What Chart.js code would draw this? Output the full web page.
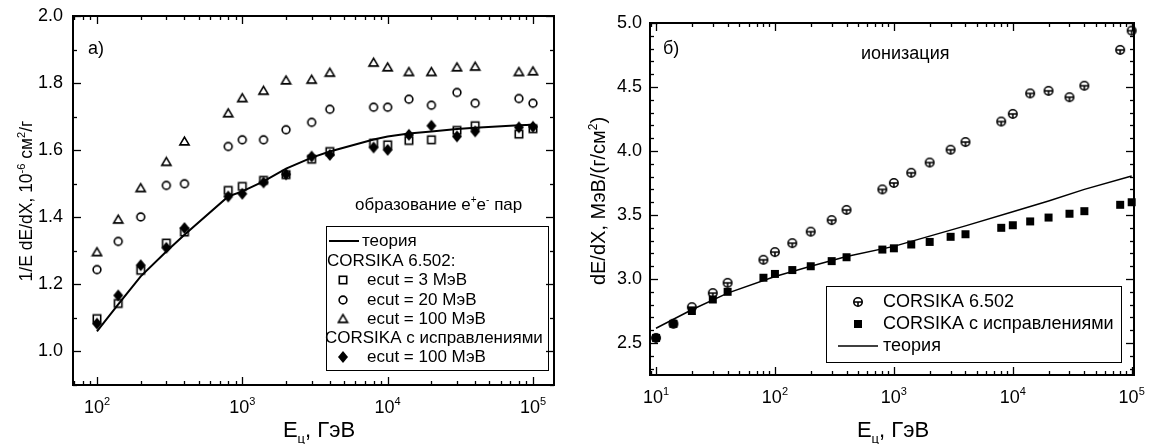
<!DOCTYPE html>
<html>
<head>
<meta charset="utf-8">
<script src="https://cdn.jsdelivr.net/npm/chart.js@4.4.1/dist/chart.umd.min.js"></script>
<style>
  html, body { margin: 0; padding: 0; background: #fff; }
  #wrap { position: relative; width: 1149px; height: 444px; }
  canvas { position: absolute; top: 0; }
</style>
</head>
<body>
<div id="wrap">
  <canvas id="pairChart" width="576" height="444" style="left:0"></canvas>
  <canvas id="ionChart" width="573" height="444" style="left:576px"></canvas>
</div>
<script>
const FONT = '"Liberation Sans", Arial, sans-serif';

// а) pair production, 1/E dE/dX in 10^-6 cm2/g
const pairEnergy = [100, 140, 200, 300, 400, 800, 1000, 1400, 2000, 3000, 4000, 8000, 10000, 14000, 20000, 30000, 40000, 80000, 100000];
const pairTheory = [1.060, 1.140, 1.224, 1.298, 1.348, 1.462, 1.477, 1.507, 1.545, 1.578, 1.596, 1.632, 1.641, 1.650, 1.656, 1.663, 1.667, 1.674, 1.676];
const pairEcut3 = [1.098, 1.143, 1.242, 1.323, 1.356, 1.480, 1.492, 1.510, 1.527, 1.573, 1.596, 1.621, 1.616, 1.629, 1.631, 1.659, 1.673, 1.648, 1.664];
const pairEcut20 = [1.244, 1.328, 1.401, 1.495, 1.500, 1.611, 1.631, 1.631, 1.661, 1.683, 1.722, 1.728, 1.728, 1.752, 1.734, 1.772, 1.740, 1.754, 1.740];
const pairEcut100 = [1.296, 1.393, 1.487, 1.565, 1.626, 1.710, 1.755, 1.777, 1.808, 1.810, 1.831, 1.861, 1.847, 1.833, 1.833, 1.847, 1.849, 1.833, 1.835];
const pairFixed = [1.083, 1.167, 1.257, 1.309, 1.368, 1.462, 1.470, 1.504, 1.528, 1.581, 1.586, 1.608, 1.601, 1.646, 1.673, 1.641, 1.656, 1.668, 1.670];
const pairYTicks = [1.0, 1.2, 1.4, 1.6, 1.8, 2.0];
const pairXTicks = [100, 1000, 10000, 100000];

// б) ionization, dE/dX in MeV/(g/cm2)
const ionEnergy = [10, 14, 20, 30, 40, 80, 100, 140, 200, 300, 400, 800, 1000, 1400, 2000, 3000, 4000, 8000, 10000, 14000, 20000, 30000, 40000, 80000, 100000];
const ionCorsika = [2.54, 2.65, 2.78, 2.89, 2.97, 3.15, 3.21, 3.28, 3.37, 3.46, 3.54, 3.70, 3.75, 3.83, 3.91, 4.01, 4.07, 4.23, 4.29, 4.45, 4.47, 4.42, 4.51, 4.79, 4.94];
const ionFixed = [2.54, 2.65, 2.75, 2.84, 2.90, 3.01, 3.04, 3.07, 3.10, 3.14, 3.17, 3.23, 3.24, 3.27, 3.29, 3.33, 3.35, 3.40, 3.42, 3.45, 3.48, 3.51, 3.53, 3.58, 3.60];
const ionTheoryEnergy = [10, 20, 40, 100, 200, 400, 1000, 2000, 4000, 10000, 20000, 40000, 100000];
const ionTheory = [2.615, 2.76, 2.89, 3.02, 3.10, 3.175, 3.255, 3.335, 3.415, 3.525, 3.61, 3.70, 3.805];
const ionYTicks = [2.5, 3.0, 3.5, 4.0, 4.5, 5.0];
const ionXTicks = [10, 100, 1000, 10000, 100000];

const pts = (xs, ys) => xs.map((x, i) => ({ x: x, y: ys[i] }));

// small canvases used as point styles
function marker(size, draw) {
  const c = document.createElement('canvas');
  c.width = c.height = size;
  const g = c.getContext('2d');
  g.translate(size / 2, size / 2);
  g.strokeStyle = '#000';
  g.fillStyle = '#000';
  g.lineWidth = 1.6;
  draw(g);
  return c;
}
const openSquare = marker(12, g => g.strokeRect(-3.7, -3.7, 7.4, 7.4));
const openCircle = marker(12, g => { g.beginPath(); g.arc(0, 0, 3.9, 0, Math.PI * 2); g.stroke(); });
const openTriangle = marker(13, g => {
  g.beginPath(); g.moveTo(0, -4.4); g.lineTo(4.6, 3.4); g.lineTo(-4.6, 3.4); g.closePath(); g.stroke();
});
const fullDiamond = marker(14, g => {
  g.beginPath(); g.moveTo(0, -6); g.lineTo(5, 0); g.lineTo(0, 6); g.lineTo(-5, 0); g.closePath(); g.fill();
});
const barCircle = marker(12, g => {
  g.beginPath(); g.arc(0, 0, 4.2, 0, Math.PI * 2); g.stroke();
  g.beginPath(); g.moveTo(-4.2, 0); g.lineTo(4.2, 0); g.moveTo(0, 0); g.lineTo(0, 4.2); g.stroke();
});
const fullSquare = marker(12, g => g.fillRect(-4, -4, 8, 8));

// text with super/subscripts: parts = [[text, 0 | 1 (sup) | -1 (sub)], ...]
function drawRich(ctx, parts, x, y, size, align) {
  const small = Math.round(size * 0.6);
  const widths = parts.map(([t, m]) => {
    ctx.font = (m ? small : size) + 'px ' + FONT;
    return ctx.measureText(t).width;
  });
  const total = widths.reduce((s, w) => s + w, 0);
  let cx = align === 'center' ? x - total / 2 : x;
  ctx.textAlign = 'left';
  ctx.textBaseline = 'alphabetic';
  parts.forEach(([t, m], i) => {
    ctx.font = (m ? small : size) + 'px ' + FONT;
    const dy = m === 1 ? -size * 0.42 : m === -1 ? size * 0.25 : 0;
    ctx.fillText(t, cx, y + dy);
    cx += widths[i];
  });
}

const panelDecor = {
  id: 'panelDecor',
  afterDraw(chart, args, o) {
    const { ctx, chartArea: a, scales } = chart;
    const x = scales.x, y = scales.y;
    ctx.save();
    ctx.fillStyle = '#000';
    ctx.strokeStyle = '#000';

    const seg = (x1, y1, x2, y2) => { ctx.beginPath(); ctx.moveTo(x1, y1); ctx.lineTo(x2, y2); ctx.stroke(); };

    // inward ticks on all four sides
    ctx.lineWidth = 1.3;
    const e0 = Math.floor(Math.log10(x.min)), e1 = Math.ceil(Math.log10(x.max));
    for (let e = e0; e <= e1; e++) {
      for (let m = 1; m < 10; m++) {
        const v = m * Math.pow(10, e);
        if (v < x.min || v > x.max) continue;
        const p = Math.round(x.getPixelForValue(v)) + 0.5;
        const len = m === 1 ? 8 : 4;
        seg(p, a.bottom, p, a.bottom - len);
        seg(p, a.top, p, a.top + len);
      }
    }
    const step = o.yMinor;
    const first = Math.ceil(y.min / step - 1e-6);
    const last = Math.floor(y.max / step + 1e-6);
    for (let i = first; i <= last; i++) {
      const v = i * step;
      const major = o.yTicks.some(t => Math.abs(t - v) < 1e-6);
      const p = Math.round(y.getPixelForValue(v)) + 0.5;
      const len = major ? 8 : 4;
      seg(a.left, p, a.left + len, p);
      seg(a.right, p, a.right - len, p);
    }

    // frame
    ctx.lineWidth = 2;
    ctx.strokeRect(a.left, a.top, a.right - a.left, a.bottom - a.top);

    // tick labels
    ctx.font = '18px ' + FONT;
    ctx.textAlign = 'right';
    ctx.textBaseline = 'middle';
    o.yTicks.forEach(t => ctx.fillText(t.toFixed(1), a.left - o.yLabelGap, y.getPixelForValue(t)));
    o.xTicks.forEach(t => {
      const exp = Math.round(Math.log10(t));
      drawRich(ctx, [['10', 0], [String(exp), 1]], x.getPixelForValue(t), a.bottom + 28, 18, 'center');
    });

    // titles and annotations
    o.texts.forEach(t => {
      ctx.save();
      ctx.translate(t.x, t.y);
      if (t.rotate) ctx.rotate(-Math.PI / 2);
      drawRich(ctx, t.parts, 0, 0, t.size, t.align);
      ctx.restore();
    });

    // legend
    const L = o.legend;
    ctx.lineWidth = 1;
    ctx.strokeRect(L.box[0] + 0.5, L.box[1] + 0.5, L.box[2], L.box[3]);
    ctx.font = L.size + 'px ' + FONT;
    ctx.textAlign = 'left';
    ctx.textBaseline = 'middle';
    L.rows.forEach(r => {
      if (r.ds >= 0) {
        const ds = chart.data.datasets[r.ds];
        if (r.kind === 'line') {
          ctx.lineWidth = ds.borderWidth;
          seg(L.line[0], r.y, L.line[1], r.y);
        } else {
          const img = ds.pointStyle;
          ctx.drawImage(img, L.markerX - img.width / 2, r.y - img.height / 2);
        }
      }
      ctx.fillText(r.text, r.tx, r.y);
    });
    ctx.restore();
  }
};

function baseScales(xr, yr, xHeight, yWidth) {
  const hidden = { display: false, drawTicks: false };
  return {
    x: {
      type: 'logarithmic', min: xr[0], max: xr[1],
      grid: hidden, border: { display: false }, ticks: { display: false },
      afterFit: s => { s.height = xHeight; }
    },
    y: {
      type: 'linear', min: yr[0], max: yr[1],
      grid: hidden, border: { display: false }, ticks: { display: false },
      afterFit: s => { s.width = yWidth; }
    }
  };
}

const common = {
  responsive: false,
  animation: false,
  events: [],
};

new Chart(document.getElementById('pairChart'), {
  type: 'scatter',
  data: {
    datasets: [
      { label: 'CORSIKA с исправлениями, ecut = 100 МэВ', data: pts(pairEnergy, pairFixed), pointStyle: fullDiamond, pointRadius: 5, order: 0, clip: false },
      { label: 'ecut = 3 МэВ', data: pts(pairEnergy, pairEcut3), pointStyle: openSquare, pointRadius: 5, order: 1, clip: false },
      { label: 'ecut = 20 МэВ', data: pts(pairEnergy, pairEcut20), pointStyle: openCircle, pointRadius: 5, order: 2, clip: false },
      { label: 'ecut = 100 МэВ', data: pts(pairEnergy, pairEcut100), pointStyle: openTriangle, pointRadius: 5, order: 3, clip: false },
      { label: 'теория', data: pts(pairEnergy, pairTheory), showLine: true, pointRadius: 0, borderColor: '#000', borderWidth: 2, order: 4 }
    ]
  },
  options: {
    ...common,
    layout: { padding: { left: 0, top: 16, right: 22, bottom: 0 } },
    scales: baseScales([68.4, 139500], [0.9, 2.0], 59, 73),
    plugins: {
      legend: { display: false },
      tooltip: { enabled: false },
      panelDecor: {
        yTicks: pairYTicks, xTicks: pairXTicks, yMinor: 0.1, yLabelGap: 10,
        texts: [
          { parts: [['а)', 0]], x: 88, y: 54, size: 18, align: 'left' },
          { parts: [['образование e', 0], ['+', 1], ['e', 0], ['-', 1], [' пар', 0]], x: 355, y: 210, size: 17, align: 'left' },
          { parts: [['E', 0], ['ц', -1], [', ГэВ', 0]], x: 319, y: 437, size: 22, align: 'center' },
          { parts: [['1/E dE/dX, 10', 0], ['-6', 1], [' см', 0], ['2', 1], ['/г', 0]], x: 32, y: 201, size: 17.5, align: 'center', rotate: true }
        ],
        legend: {
          box: [326, 226, 222, 144], size: 17, markerX: 343, line: [329, 359],
          rows: [
            { ds: 4, kind: 'line', text: 'теория', tx: 362, y: 241 },
            { ds: -1, text: 'CORSIKA 6.502:', tx: 327, y: 261 },
            { ds: 1, text: 'ecut = 3 МэВ', tx: 367, y: 280 },
            { ds: 2, text: 'ecut = 20 МэВ', tx: 367, y: 300 },
            { ds: 3, text: 'ecut = 100 МэВ', tx: 367, y: 319 },
            { ds: -1, text: 'CORSIKA с исправлениями', tx: 325, y: 338 },
            { ds: 0, text: 'ecut = 100 МэВ', tx: 367, y: 357 }
          ]
        }
      }
    }
  },
  plugins: [panelDecor]
});

new Chart(document.getElementById('ionChart'), {
  type: 'scatter',
  data: {
    datasets: [
      { label: 'CORSIKA с исправлениями', data: pts(ionEnergy, ionFixed), pointStyle: fullSquare, pointRadius: 5, order: 0, clip: false },
      { label: 'CORSIKA 6.502', data: pts(ionEnergy, ionCorsika), pointStyle: barCircle, pointRadius: 5, order: 1, clip: false },
      { label: 'теория', data: pts(ionTheoryEnergy, ionTheory), showLine: true, pointRadius: 0, borderColor: '#000', borderWidth: 1.5, order: 2 }
    ]
  },
  options: {
    ...common,
    layout: { padding: { left: 0, top: 23, right: 15, bottom: 0 } },
    scales: baseScales([8.9, 104600], [2.25, 5.0], 69, 74),
    plugins: {
      legend: { display: false },
      tooltip: { enabled: false },
      panelDecor: {
        yTicks: ionYTicks, xTicks: ionXTicks, yMinor: 0.1, yLabelGap: 8,
        texts: [
          { parts: [['б)', 0]], x: 87, y: 54, size: 18, align: 'left' },
          { parts: [['ионизация', 0]], x: 285, y: 59, size: 18, align: 'left' },
          { parts: [['E', 0], ['ц', -1], [', ГэВ', 0]], x: 317, y: 437, size: 22, align: 'center' },
          { parts: [['dE/dX, МэВ/(г/см', 0], ['2', 1], [')', 0]], x: 29, y: 201, size: 20, align: 'center', rotate: true }
        ],
        legend: {
          box: [250, 286, 295, 76], size: 18, markerX: 282, line: [262, 302],
          rows: [
            { ds: 1, text: 'CORSIKA 6.502', tx: 307, y: 302 },
            { ds: 0, text: 'CORSIKA с исправлениями', tx: 307, y: 324 },
            { ds: 2, kind: 'line', text: 'теория', tx: 307, y: 346 }
          ]
        }
      }
    }
  },
  plugins: [panelDecor]
});
</script>
</body>
</html>
